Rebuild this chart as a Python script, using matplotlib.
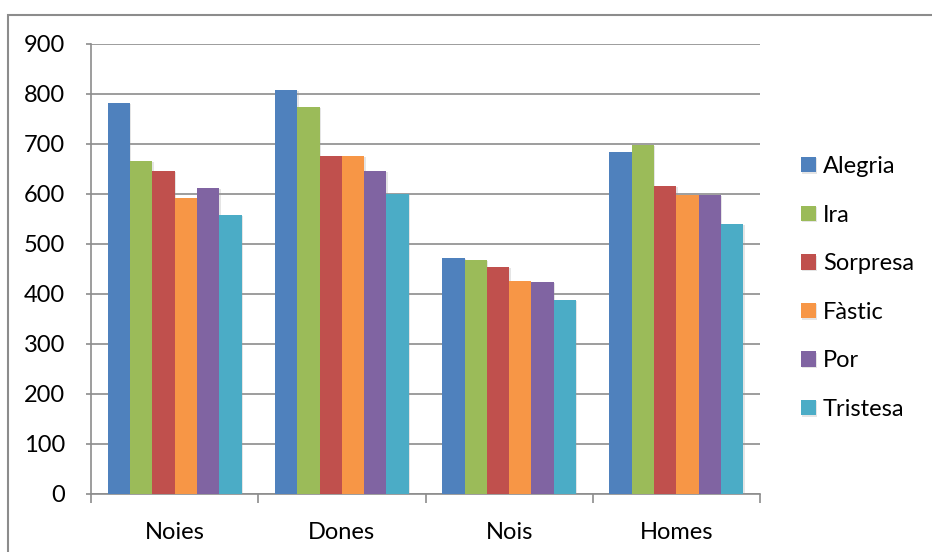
import matplotlib
matplotlib.use("Agg")
import matplotlib.pyplot as plt
import matplotlib.patheffects as pe
import numpy as np
from matplotlib.patches import Rectangle

# Scores per group and emotion
groups = ['Noies', 'Dones', 'Nois', 'Homes']
emotions = ['Alegria', 'Ira', 'Sorpresa', 'Fàstic', 'Por', 'Tristesa']
alegria = [783, 808, 472, 685]
ira = [666, 775, 468, 698]
sorpresa = [646, 677, 455, 617]
fastic = [593, 677, 427, 598]
por = [612, 647, 425, 599]
tristesa = [559, 600, 388, 540]
series = [alegria, ira, sorpresa, fastic, por, tristesa]
colors = ['#4F81BD', '#9BBB59', '#C0504D', '#F79646', '#8064A2', '#4BACC6']
y_ticks = [0, 100, 200, 300, 400, 500, 600, 700, 800, 900]

plt.rcParams['font.family'] = ['Lato', 'DejaVu Sans']

W, H = 932, 552
fig = plt.figure(figsize=(W / 100, H / 100), dpi=100)

# chart-area border (runs off the right and bottom)
fig.patches.append(Rectangle((8 / W, -0.05), 1.1, 1 - 15 / H + 0.05,
                             transform=fig.transFigure, fill=False,
                             edgecolor='#8c8c8c', linewidth=1.5))

ax = fig.add_axes([91 / W, (H - 494) / H, (760 - 91) / W, 450 / H])

x = np.arange(len(groups))
n = len(series)
bw = 0.8 / n
shadow = [pe.SimplePatchShadow(offset=(1, -1), shadow_rgbFace='#999999',
                               alpha=0.25), pe.Normal()]
for i, (vals, c, name) in enumerate(zip(series, colors, emotions)):
    bars = ax.bar(x - 0.4 + bw * (i + 0.5), vals, width=bw, color=c,
                  label=name, zorder=3, linewidth=0)
    for b in bars:
        b.set_path_effects(shadow)

ax.set_xlim(-0.5, len(groups) - 0.5)
ax.set_ylim(0, 900)
ax.set_yticks(y_ticks)
ax.yaxis.grid(True, color='#8c8c8c', linewidth=1.2, zorder=0)
ax.set_xticks(x)
ax.set_xticklabels(groups)
ax.set_xticks(np.arange(-0.5, len(groups)), minor=True)
ax.tick_params(axis='x', which='major', length=0, pad=20, labelsize=17)
ax.tick_params(axis='x', which='minor', length=6.5, width=1.2, color='#8c8c8c')
ax.tick_params(axis='y', length=3.6, width=1.2, color='#8c8c8c', pad=15,
               labelsize=17)

for s in ['top', 'right']:
    ax.spines[s].set_visible(False)
for s in ['left', 'bottom']:
    ax.spines[s].set_color('#8c8c8c')
    ax.spines[s].set_linewidth(1.2)

ax.legend(loc='center left', bbox_to_anchor=(801 / W, (H - 288) / H),
          bbox_transform=fig.transFigure, frameon=False, fontsize=17,
          handlelength=0.62, handleheight=0.62, handletextpad=0.3,
          labelspacing=1.17, borderaxespad=0, borderpad=0)

fig.savefig('out.png', dpi=100)
